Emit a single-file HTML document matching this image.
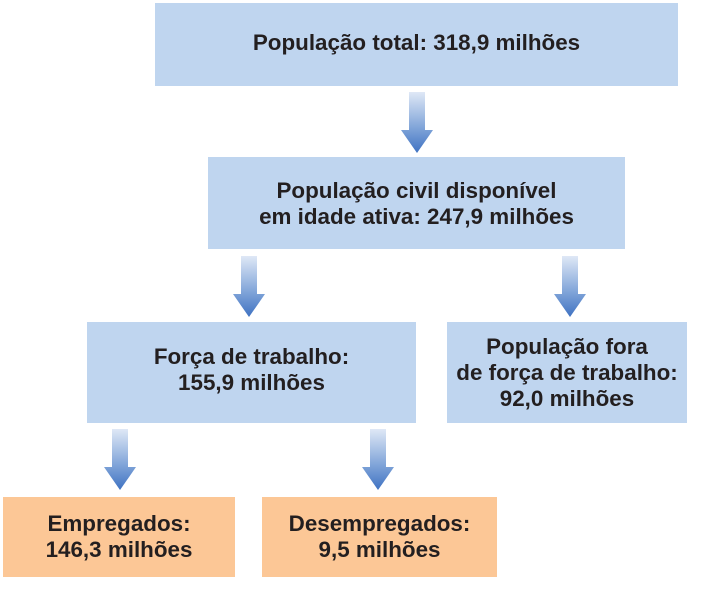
<!DOCTYPE html>
<html><head><meta charset="utf-8"><style>
body{margin:0;width:711px;height:599px;background:#fff;position:relative;overflow:hidden;font-family:"Liberation Sans",Arial,sans-serif}
.b{position:absolute;display:flex;align-items:center;justify-content:center;text-align:center;font-weight:bold;font-size:22.4px;line-height:26px;color:#231f20;background:#bfd5ef}
.o{background:#fcc796}
svg{position:absolute;left:0;top:0}
</style></head><body>
<div class="b" style="left:155px;top:3px;width:523px;height:83px;padding-bottom:4px;box-sizing:border-box">População total: 318,9 milhões</div>
<div class="b" style="left:208px;top:157px;width:417px;height:92px;padding-top:2px;box-sizing:border-box">População civil disponível<br>em idade ativa: 247,9 milhões</div>
<div class="b" style="left:87px;top:322px;width:329px;height:101px;padding-bottom:6px;box-sizing:border-box">Força de trabalho:<br>155,9 milhões</div>
<div class="b" style="left:447px;top:322px;width:240px;height:101px">População fora<br>de força de trabalho:<br>92,0 milhões</div>
<div class="b o" style="left:3px;top:497px;width:232px;height:80px">Empregados:<br>146,3 milhões</div>
<div class="b o" style="left:262px;top:497px;width:235px;height:80px">Desempregados:<br>9,5 milhões</div>
<svg width="711" height="599">
<defs><linearGradient id="g" x1="0" y1="0" x2="0" y2="1"><stop offset="0" stop-color="#dfe8f6"/><stop offset="0.6" stop-color="#7ea3d8"/><stop offset="1" stop-color="#3f72c2"/></linearGradient></defs>
<g fill="url(#g)">
<path d="M409,92h16v38h8l-16,23l-16,-23h8z"/>
<path d="M241,256h16v38h8l-16,23l-16,-23h8z"/>
<path d="M562,256h16v38h8l-16,23l-16,-23h8z"/>
<path d="M112,429h16v38h8l-16,23l-16,-23h8z"/>
<path d="M370,429h16v38h8l-16,23l-16,-23h8z"/>
</g></svg>
</body></html>
